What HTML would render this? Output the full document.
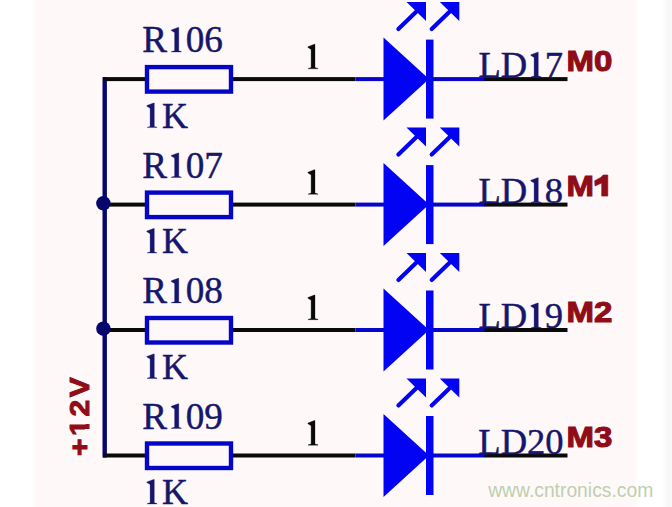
<!DOCTYPE html>
<html><head><meta charset="utf-8"><style>
html,body{margin:0;padding:0;background:#fff;}
svg{display:block;}
</style></head><body>
<svg width="672" height="507" viewBox="0 0 672 507">
<rect x="0" y="0" width="672" height="507" fill="#ffffff"/>
<defs><linearGradient id="bg" x1="0" x2="672" y1="0" y2="0" gradientUnits="userSpaceOnUse"><stop offset="0.047" stop-color="#ffffff"/><stop offset="0.055" stop-color="#fef9f8"/><stop offset="0.945" stop-color="#fef9f8"/><stop offset="0.950" stop-color="#ffffff"/><stop offset="0.985" stop-color="#ffffff"/><stop offset="0.995" stop-color="#f7f7f7"/><stop offset="1" stop-color="#f9f9f9"/></linearGradient></defs>
<rect x="0" y="0" width="672" height="507" fill="url(#bg)"/>
<rect x="102.5" y="77.1" width="4.4" height="380.4" fill="#06066c"/>
<rect x="103" y="77.1" width="43" height="4" fill="#0a0a0a"/>
<rect x="147" y="67.1" width="84" height="24.5" fill="none" stroke="#0505c8" stroke-width="4.4"/>
<rect x="233" y="77.1" width="122.5" height="4" fill="#0a0a0a"/>
<rect x="355.5" y="77.1" width="28.5" height="4" fill="#0606c8"/>
<polygon points="383.5,37.599999999999994 383.5,120.6 429,79.1" fill="#0303f4"/>
<rect x="426" y="39.599999999999994" width="7.5" height="79" fill="#0303f4"/>
<rect x="433" y="77.1" width="52" height="4" fill="#0606c8"/>
<rect x="484.5" y="77.1" width="83" height="4" fill="#0a0a0a"/>
<line x1="398.4" y1="28.999999999999993" x2="417" y2="11.099999999999994" stroke="#0303f4" stroke-width="4.2" stroke-linecap="round"/>
<polygon points="406.5,2.0999999999999943 426,2.0999999999999943 426,21.099999999999994" fill="#0303f4"/>
<line x1="431.7" y1="28.999999999999993" x2="450.3" y2="11.099999999999994" stroke="#0303f4" stroke-width="4.2" stroke-linecap="round"/>
<polygon points="439.8,2.0999999999999943 459.3,2.0999999999999943 459.3,21.099999999999994" fill="#0303f4"/>
<text x="142.3" y="52.099999999999994" font-family="Liberation Serif, serif" stroke-width="0.45" font-size="37.2" fill="#16166c" stroke="#16166c">R</text>
<text x="185.7" y="52.099999999999994" font-family="Liberation Serif, serif" stroke-width="0.45" font-size="37.2" fill="#16166c" stroke="#16166c">06</text>
<polygon points="178.8,27.39999999999999 178.8,50.79999999999999 181.3,51.599999999999994 181.3,51.99999999999999 171.4,51.99999999999999 171.4,51.599999999999994 174.6,50.79999999999999 174.6,32.599999999999994 171.2,30.59999999999999 171.2,29.89999999999999 178.0,27.39999999999999" fill="#16166c" stroke="#16166c" stroke-width="0.3" stroke-linejoin="round"/>
<text x="162" y="127.69999999999999" font-family="Liberation Serif, serif" stroke-width="0.45" font-size="36" fill="#16166c" stroke="#16166c">K</text>
<polygon points="154.3,103.0 154.3,126.39999999999999 157.0,127.19999999999999 157.0,127.6 147.3,127.6 147.3,127.19999999999999 150.1,126.39999999999999 150.1,108.2 146.8,106.2 146.8,105.5 153.5,103.0" fill="#16166c" stroke="#16166c" stroke-width="0.3" stroke-linejoin="round"/>
<polygon points="315.0,44.199999999999996 315.0,67.6 318.0,68.39999999999999 318.0,68.8 308.2,68.8 308.2,68.39999999999999 311.1,67.6 311.1,49.4 307.9,47.4 307.9,46.699999999999996 314.2,44.199999999999996" fill="#0a0a0a" stroke="#0a0a0a" stroke-width="0.3" stroke-linejoin="round"/>
<text x="478.5" y="77.19999999999999" font-family="Liberation Serif, serif" stroke-width="0.45" font-size="36.6" fill="#16166c" stroke="#16166c">LD</text>
<text x="544.8" y="77.19999999999999" font-family="Liberation Serif, serif" stroke-width="0.45" font-size="36.6" fill="#16166c" stroke="#16166c">7</text>
<polygon points="538.3,52.199999999999996 538.3,75.99999999999999 541.2,76.79999999999998 541.2,77.19999999999999 531.2,77.19999999999999 531.2,76.79999999999998 534.1,75.99999999999999 534.1,57.4 530.8,55.4 530.8,54.699999999999996 537.5,52.199999999999996" fill="#16166c" stroke="#16166c" stroke-width="0.3" stroke-linejoin="round"/>
<text transform="translate(566.5,70.6) scale(1.1,0.99)" font-family="Liberation Sans, sans-serif" font-size="30" font-weight="bold" fill="#900c18" stroke="#900c18" stroke-width="1.1">M0</text>
<rect x="103" y="202.6" width="43" height="4" fill="#0a0a0a"/>
<rect x="147" y="192.6" width="84" height="24.5" fill="none" stroke="#0505c8" stroke-width="4.4"/>
<rect x="233" y="202.6" width="122.5" height="4" fill="#0a0a0a"/>
<rect x="355.5" y="202.6" width="28.5" height="4" fill="#0606c8"/>
<polygon points="383.5,163.1 383.5,246.1 429,204.6" fill="#0303f4"/>
<rect x="426" y="165.1" width="7.5" height="79" fill="#0303f4"/>
<rect x="433" y="202.6" width="52" height="4" fill="#0606c8"/>
<rect x="484.5" y="202.6" width="83" height="4" fill="#0a0a0a"/>
<line x1="398.4" y1="154.5" x2="417" y2="136.6" stroke="#0303f4" stroke-width="4.2" stroke-linecap="round"/>
<polygon points="406.5,127.6 426,127.6 426,146.6" fill="#0303f4"/>
<line x1="431.7" y1="154.5" x2="450.3" y2="136.6" stroke="#0303f4" stroke-width="4.2" stroke-linecap="round"/>
<polygon points="439.8,127.6 459.3,127.6 459.3,146.6" fill="#0303f4"/>
<text x="142.3" y="177.6" font-family="Liberation Serif, serif" stroke-width="0.45" font-size="37.2" fill="#16166c" stroke="#16166c">R</text>
<text x="185.7" y="177.6" font-family="Liberation Serif, serif" stroke-width="0.45" font-size="37.2" fill="#16166c" stroke="#16166c">07</text>
<polygon points="178.8,152.89999999999998 178.8,176.3 181.3,177.1 181.3,177.5 171.4,177.5 171.4,177.1 174.6,176.3 174.6,158.09999999999997 171.2,156.09999999999997 171.2,155.39999999999998 178.0,152.89999999999998" fill="#16166c" stroke="#16166c" stroke-width="0.3" stroke-linejoin="round"/>
<text x="162" y="253.2" font-family="Liberation Serif, serif" stroke-width="0.45" font-size="36" fill="#16166c" stroke="#16166c">K</text>
<polygon points="154.3,228.5 154.3,251.9 157.0,252.7 157.0,253.1 147.3,253.1 147.3,252.7 150.1,251.9 150.1,233.7 146.8,231.7 146.8,231.0 153.5,228.5" fill="#16166c" stroke="#16166c" stroke-width="0.3" stroke-linejoin="round"/>
<polygon points="315.0,169.7 315.0,193.1 318.0,193.89999999999998 318.0,194.29999999999998 308.2,194.29999999999998 308.2,193.89999999999998 311.1,193.1 311.1,174.89999999999998 307.9,172.89999999999998 307.9,172.2 314.2,169.7" fill="#0a0a0a" stroke="#0a0a0a" stroke-width="0.3" stroke-linejoin="round"/>
<text x="478.5" y="202.7" font-family="Liberation Serif, serif" stroke-width="0.45" font-size="36.6" fill="#16166c" stroke="#16166c">LD</text>
<text x="544.8" y="202.7" font-family="Liberation Serif, serif" stroke-width="0.45" font-size="36.6" fill="#16166c" stroke="#16166c">8</text>
<polygon points="538.3,177.7 538.3,201.5 541.2,202.29999999999998 541.2,202.7 531.2,202.7 531.2,202.29999999999998 534.1,201.5 534.1,182.89999999999998 530.8,180.89999999999998 530.8,180.2 537.5,177.7" fill="#16166c" stroke="#16166c" stroke-width="0.3" stroke-linejoin="round"/>
<text transform="translate(566.5,196.1) scale(1.1,0.99)" font-family="Liberation Sans, sans-serif" font-size="30" font-weight="bold" fill="#900c18" stroke="#900c18" stroke-width="1.1">M</text>
<polygon points="603.2,175.0 607.8,175.0 607.8,196.1 601.7,196.1 601.7,183.0 595.0,186.0 594.7,180.7 600.8,177.4" fill="#900c18" stroke="#900c18" stroke-width="0.6" stroke-linejoin="round"/>
<rect x="103" y="328.0" width="43" height="4" fill="#0a0a0a"/>
<rect x="147" y="318.0" width="84" height="24.5" fill="none" stroke="#0505c8" stroke-width="4.4"/>
<rect x="233" y="328.0" width="122.5" height="4" fill="#0a0a0a"/>
<rect x="355.5" y="328.0" width="28.5" height="4" fill="#0606c8"/>
<polygon points="383.5,288.5 383.5,371.5 429,330.0" fill="#0303f4"/>
<rect x="426" y="290.5" width="7.5" height="79" fill="#0303f4"/>
<rect x="433" y="328.0" width="52" height="4" fill="#0606c8"/>
<rect x="484.5" y="328.0" width="83" height="4" fill="#0a0a0a"/>
<line x1="398.4" y1="279.9" x2="417" y2="262.0" stroke="#0303f4" stroke-width="4.2" stroke-linecap="round"/>
<polygon points="406.5,253.0 426,253.0 426,272.0" fill="#0303f4"/>
<line x1="431.7" y1="279.9" x2="450.3" y2="262.0" stroke="#0303f4" stroke-width="4.2" stroke-linecap="round"/>
<polygon points="439.8,253.0 459.3,253.0 459.3,272.0" fill="#0303f4"/>
<text x="142.3" y="303.0" font-family="Liberation Serif, serif" stroke-width="0.45" font-size="37.2" fill="#16166c" stroke="#16166c">R</text>
<text x="185.7" y="303.0" font-family="Liberation Serif, serif" stroke-width="0.45" font-size="37.2" fill="#16166c" stroke="#16166c">08</text>
<polygon points="178.8,278.3 178.8,301.7 181.3,302.5 181.3,302.9 171.4,302.9 171.4,302.5 174.6,301.7 174.6,283.5 171.2,281.5 171.2,280.8 178.0,278.3" fill="#16166c" stroke="#16166c" stroke-width="0.3" stroke-linejoin="round"/>
<text x="162" y="378.6" font-family="Liberation Serif, serif" stroke-width="0.45" font-size="36" fill="#16166c" stroke="#16166c">K</text>
<polygon points="154.3,353.9 154.3,377.3 157.0,378.1 157.0,378.5 147.3,378.5 147.3,378.1 150.1,377.3 150.1,359.09999999999997 146.8,357.09999999999997 146.8,356.4 153.5,353.9" fill="#16166c" stroke="#16166c" stroke-width="0.3" stroke-linejoin="round"/>
<polygon points="315.0,295.1 315.0,318.5 318.0,319.3 318.0,319.7 308.2,319.7 308.2,319.3 311.1,318.5 311.1,300.3 307.9,298.3 307.9,297.6 314.2,295.1" fill="#0a0a0a" stroke="#0a0a0a" stroke-width="0.3" stroke-linejoin="round"/>
<text x="478.5" y="328.1" font-family="Liberation Serif, serif" stroke-width="0.45" font-size="36.6" fill="#16166c" stroke="#16166c">LD</text>
<text x="544.8" y="328.1" font-family="Liberation Serif, serif" stroke-width="0.45" font-size="36.6" fill="#16166c" stroke="#16166c">9</text>
<polygon points="538.3,303.1 538.3,326.90000000000003 541.2,327.70000000000005 541.2,328.1 531.2,328.1 531.2,327.70000000000005 534.1,326.90000000000003 534.1,308.3 530.8,306.3 530.8,305.6 537.5,303.1" fill="#16166c" stroke="#16166c" stroke-width="0.3" stroke-linejoin="round"/>
<text transform="translate(566.5,321.5) scale(1.1,0.99)" font-family="Liberation Sans, sans-serif" font-size="30" font-weight="bold" fill="#900c18" stroke="#900c18" stroke-width="1.1">M2</text>
<rect x="103" y="453.5" width="43" height="4" fill="#0a0a0a"/>
<rect x="147" y="443.5" width="84" height="24.5" fill="none" stroke="#0505c8" stroke-width="4.4"/>
<rect x="233" y="453.5" width="122.5" height="4" fill="#0a0a0a"/>
<rect x="355.5" y="453.5" width="28.5" height="4" fill="#0606c8"/>
<polygon points="383.5,414.0 383.5,497.0 429,455.5" fill="#0303f4"/>
<rect x="426" y="416.0" width="7.5" height="79" fill="#0303f4"/>
<rect x="433" y="453.5" width="52" height="4" fill="#0606c8"/>
<rect x="484.5" y="453.5" width="83" height="4" fill="#0a0a0a"/>
<line x1="398.4" y1="405.4" x2="417" y2="387.5" stroke="#0303f4" stroke-width="4.2" stroke-linecap="round"/>
<polygon points="406.5,378.5 426,378.5 426,397.5" fill="#0303f4"/>
<line x1="431.7" y1="405.4" x2="450.3" y2="387.5" stroke="#0303f4" stroke-width="4.2" stroke-linecap="round"/>
<polygon points="439.8,378.5 459.3,378.5 459.3,397.5" fill="#0303f4"/>
<text x="142.3" y="428.5" font-family="Liberation Serif, serif" stroke-width="0.45" font-size="37.2" fill="#16166c" stroke="#16166c">R</text>
<text x="185.7" y="428.5" font-family="Liberation Serif, serif" stroke-width="0.45" font-size="37.2" fill="#16166c" stroke="#16166c">09</text>
<polygon points="178.8,403.8 178.8,427.2 181.3,428.0 181.3,428.4 171.4,428.4 171.4,428.0 174.6,427.2 174.6,409.0 171.2,407.0 171.2,406.3 178.0,403.8" fill="#16166c" stroke="#16166c" stroke-width="0.3" stroke-linejoin="round"/>
<text x="162" y="504.1" font-family="Liberation Serif, serif" stroke-width="0.45" font-size="36" fill="#16166c" stroke="#16166c">K</text>
<polygon points="154.3,479.4 154.3,502.8 157.0,503.6 157.0,504.0 147.3,504.0 147.3,503.6 150.1,502.8 150.1,484.59999999999997 146.8,482.59999999999997 146.8,481.9 153.5,479.4" fill="#16166c" stroke="#16166c" stroke-width="0.3" stroke-linejoin="round"/>
<polygon points="315.0,420.6 315.0,444.0 318.0,444.8 318.0,445.2 308.2,445.2 308.2,444.8 311.1,444.0 311.1,425.8 307.9,423.8 307.9,423.1 314.2,420.6" fill="#0a0a0a" stroke="#0a0a0a" stroke-width="0.3" stroke-linejoin="round"/>
<text x="478.3" y="453.6" font-family="Liberation Serif, serif" stroke-width="0.45" font-size="36.6" fill="#16166c" stroke="#16166c">LD20</text>
<text transform="translate(566.5,447.0) scale(1.1,0.99)" font-family="Liberation Sans, sans-serif" font-size="30" font-weight="bold" fill="#900c18" stroke="#900c18" stroke-width="1.1">M3</text>
<circle cx="103.4" cy="203.29999999999998" r="7.2" fill="#06066c"/>
<circle cx="103.4" cy="328.7" r="7.2" fill="#06066c"/>
<text transform="translate(88.7,456) rotate(-90) scale(1,0.92)" font-family="Liberation Sans, sans-serif" font-size="30" font-weight="bold" letter-spacing="2.6" fill="#900c18" stroke="#900c18" stroke-width="1.0">+12V</text>
<rect x="85" y="419" width="5" height="5" fill="#fef9f8"/><rect x="85" y="429" width="5" height="6" fill="#fef9f8"/>
<text x="488.2" y="497.4" font-family="Liberation Sans, sans-serif" font-size="19.3" fill="#bdcfb1">www.cntronics.com</text>
</svg>
</body></html>
